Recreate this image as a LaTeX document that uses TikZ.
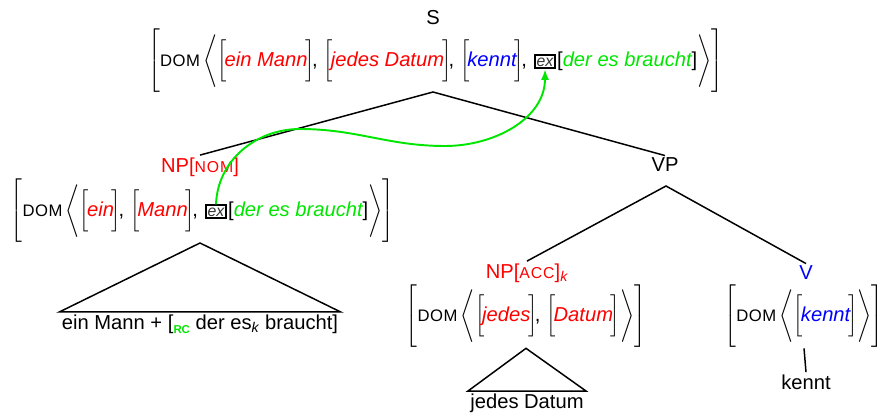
\documentclass[tikz,border=0pt]{standalone}
\usepackage{fontspec}
\setmainfont{Liberation Sans}
\usepackage{xcolor}
\usetikzlibrary{positioning, arrows.meta}

\definecolor{relgreen}{RGB}{0,230,0}
\nulldelimiterspace=0pt

% delimiters of the feature structures
\newcommand{\dsize}[1]{\vcenter{\hbox{\rule{0pt}{#1}}}}
\newcommand{\Ob}{\mathopen{\left[\dsize{35pt}\right.}}
\newcommand{\Cb}{\mathclose{\left.\dsize{35pt}\right]}}
\newcommand{\Oa}{\mathopen{\left\langle\dsize{28pt}\right.}}
\newcommand{\Ca}{\mathclose{\left.\dsize{28pt}\right\rangle}}
\newcommand{\ob}{\mathopen{\left[\dsize{20pt}\right.}\kern-1.2pt}
\newcommand{\cb}{\kern-1.2pt\mathclose{\left.\dsize{20pt}\right]}}
\newcommand{\sep}{\kern-1.5pt,\hspace{3.4pt}}
\newcommand{\dom}{{\fontsize{9.5}{11}\selectfont\addfontfeatures{LetterSpace=3}DOM}}
\newcommand{\smallcaps}[1]{{\fontsize{9}{11}\selectfont\addfontfeatures{LetterSpace=6}#1}}
\newcommand{\val}[2]{\textcolor{#1}{\itshape #2}}

\begin{document}
\begin{tikzpicture}[x=0.57pt, y=-0.57pt, line width=0.85pt,
	font=\fontsize{11.5}{14}\selectfont,
	cat/.style={inner sep=1pt},
	avm/.style={inner sep=0pt},
	exmark/.style={draw, line width=1.1pt, inner sep=1.2pt, font=\fontsize{9}{10}\selectfont\itshape, text=black!80},
	yield/.style={inner sep=1pt}]
	\useasboundingbox (0,0) rectangle (882,415);
	
	% S
	\node[cat] (s) at (433,18) {S};
	\node[exmark, anchor=base] (sex) at (545,66) {ex};
	\node[avm, anchor=base east] (sleft) at ([xshift=-3.4pt]sex.base west) {$\Ob$\dom\,$\Oa\ob$\val{red}{ein Mann}$\cb$\sep$\ob$\val{red}{jedes Datum}$\cb$\sep$\ob$\val{blue}{kennt}$\cb$\kern-1.5pt,};
	\node[avm, anchor=base west] (sright) at (sex.base east) {[\val{relgreen}{der es braucht}]$\Ca\Cb$};
	\coordinate (sroot) at (433,92);
	
	% NP[NOM]
	\node[cat, text=red] (npnom) at (200,167) {NP[\smallcaps{NOM}]};
	\node[exmark, anchor=base] (npex) at (216,216) {ex};
	\node[avm, anchor=base east] (npnomleft) at ([xshift=-3.4pt]npex.base west) {$\Ob$\dom\,$\Oa\ob$\val{red}{ein}$\cb$\sep$\ob$\val{red}{Mann}$\cb$\kern-1.5pt,};
	\node[avm, anchor=base west] (npnomright) at (npex.base east) {[\val{relgreen}{der es braucht}]$\Ca\Cb$};
	\coordinate (npnomtop) at (200,243);
	\node[yield] (npnomyield) at (200,324) {ein Mann + [\raisebox{-2.5pt}{\textcolor{relgreen}{\fontsize{6.5}{7}\selectfont\bfseries RC}} der es\textsubscript{\itshape k} braucht]};
	
	% VP
	\node[cat] (vp) at (665,165) {VP};
	\coordinate (vproot) at (666,186);
	
	% NP[ACC]
	\node[cat, text=red] (npacc) at (527,273) {NP[\smallcaps{ACC}]\textsubscript{\itshape k}};
	\node[avm] (npaccavm) at (526,316) {$\Ob$\dom\,$\Oa\ob$\val{red}{jedes}$\cb$\sep$\ob$\val{red}{Datum}$\cb\Ca\Cb$};
	\node[yield] (npaccyield) at (527,403) {jedes Datum};
	
	% V
	\node[cat, text=blue] (v) at (806,273) {V};
	\node[avm] (vavm) at (804,316) {$\Ob$\dom\,$\Oa\ob$\val{blue}{kennt}$\cb\Ca\Cb$};
	\node[yield] (vyield) at (806,382) {kennt};
	
	% branches
	\draw (npnom.north) -- (sroot) -- (vp.north);
	\draw (npacc.north) -- (vproot) -- (v.north);
	\draw (npnomtop) -- (npnomyield.north west) -- (npnomyield.north east) -- cycle;
	\draw (npaccavm.south) -- (npaccyield.north west) -- (npaccyield.north east) -- cycle;
	\draw (vavm.south) -- (vyield.north);
	
	% extraposition
	\draw[relgreen, line width=1.1pt, -{Latex[length=6pt]}] (npex.north) to[out=88,in=180] (300,129) to[out=0,in=180] (445,146) to[out=0,in=-90] (sex.south);
\end{tikzpicture}
\end{document}
